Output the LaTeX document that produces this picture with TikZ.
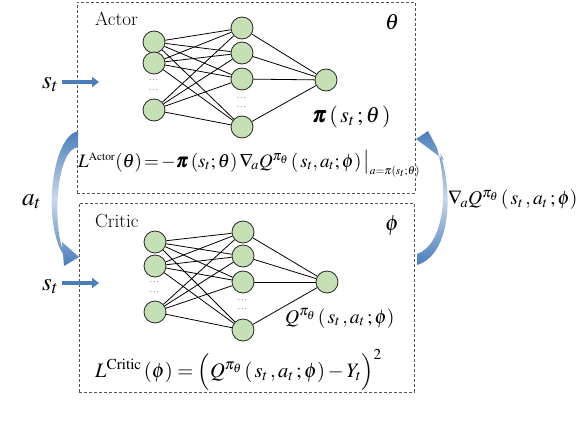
\documentclass[tikz,border=0pt]{standalone}
\usepackage{mathptmx}
\usepackage{amsmath}
\usepackage{bm}
\usepackage{tikz}
\usetikzlibrary{arrows.meta}
\definecolor{leaf}{HTML}{C5E0B4}
\definecolor{steel}{HTML}{4A7EBB}
\definecolor{frame}{HTML}{555555}

\begin{document}
\begin{tikzpicture}[x=1pt,y=-1pt,neuron/.style={circle,draw=black!85,fill=leaf,line width=0.8pt,minimum size=22pt,inner sep=0pt},wire/.style={line width=0.8pt,draw=black},panel/.style={draw=frame,densely dashed,line width=0.7pt,inner sep=0pt},feed/.style={-{Triangle[length=7pt,width=10pt]},line width=3.5pt,draw=steel},loopshade/.style={top color=steel,bottom color=steel,middle color=steel!30},eq/.style={font=\fontsize{22}{26}\selectfont,inner sep=0pt},mideq/.style={font=\fontsize{19.5}{23}\selectfont,inner sep=0pt},bigeq/.style={font=\fontsize{25}{30}\selectfont,inner sep=0pt},title/.style={font=\fontsize{19}{21}\selectfont,inner sep=0pt,anchor=base west},ellip/.style={font=\fontsize{9}{9}\selectfont,inner sep=0pt}]
\useasboundingbox (0,0) rectangle (586,434);

% the two panels
\node[panel,minimum width=338pt,minimum height=191pt] (actor) at (246,97.5) {};
\node[panel,minimum width=335pt,minimum height=189pt] (critic) at (246.5,297.5) {};
\node[title] (actname) at (95,25) {Actor};
\node[title] (critname) at (95,227) {Critic};
\node[eq] (theta) at (392,22) {$\theta$};
\node[eq] (phi) at (392,226) {$\phi$};

% actor network
\node[neuron] (ai1) at (154,42) {};
\node[neuron] (ai2) at (154,63) {};
\node[neuron] (ai3) at (154,110) {};
\node[neuron] (ah1) at (242,28) {};
\node[neuron] (ah2) at (242,53) {};
\node[neuron] (ah3) at (242,79) {};
\node[neuron] (ah4) at (242,127) {};
\node[neuron] (ao) at (326,80) {};
\node[ellip] (aid1) at (154,81) {$\cdots$};
\node[ellip] (aid2) at (154,91) {$\cdots$};
\node[ellip] (ahd1) at (242,99) {$\cdots$};
\node[ellip] (ahd2) at (242,108) {$\cdots$};
\foreach \i in {1,2,3}
  \foreach \h in {1,...,4}
    \draw[wire] (ai\i) -- (ah\h);
\foreach \h in {1,...,4}
  \draw[wire] (ah\h) -- (ao);

% critic network
\node[neuron] (ci1) at (155,242) {};
\node[neuron] (ci2) at (155,266) {};
\node[neuron] (ci3) at (155,312) {};
\node[neuron] (ch1) at (243,232) {};
\node[neuron] (ch2) at (243,256) {};
\node[neuron] (ch3) at (243,282) {};
\node[neuron] (ch4) at (243,330) {};
\node[neuron] (co) at (327,282) {};
\node[ellip] (cid1) at (155,283) {$\cdots$};
\node[ellip] (cid2) at (155,293) {$\cdots$};
\node[ellip] (chd1) at (243,301) {$\cdots$};
\node[ellip] (chd2) at (243,310) {$\cdots$};
\foreach \i in {1,2,3}
  \foreach \h in {1,...,4}
    \draw[wire] (ci\i) -- (ch\h);
\foreach \h in {1,...,4}
  \draw[wire] (ch\h) -- (co);

% outputs and losses
\node[eq,anchor=base west] (piout) at (312,122) {$\bm{\pi}\left(\,s_t\,;\theta\,\right)$};
\node[mideq,anchor=base west] (qout) at (285,323) {$Q^{\pi_\theta}\left(\,s_t\,,a_t\,;\phi\right)$};
\node[anchor=base west,inner sep=0pt,font=\fontsize{19}{23}\selectfont] (lact) at (78,167) {$L^{\scriptscriptstyle\mathrm{Actor}}(\theta)\!=\!-\bm{\pi}\left(s_t;\theta\right)\nabla_{\!a}Q^{\pi_\theta}\left(\,s_t,a_t;\phi\right)\big|_{\scriptscriptstyle a=\pi(s_t;\theta)}$};
\node[anchor=base west,inner sep=0pt,font=\fontsize{20.5}{24}\selectfont] (lcrit) at (95,377) {$L^{\mathrm{Critic}}\,(\phi)=\Big(Q^{\pi_\theta}\left(\,s_t\,,a_t\,;\phi\right)-Y_t\Big)^2$};

% inputs
\node[bigeq,anchor=base west] (st1) at (42,88) {$s_t$};
\node[bigeq,anchor=base west] (st2) at (42,290) {$s_t$};
\node[bigeq,anchor=base west] (at) at (22,205) {$a_t$};
\node[mideq,anchor=west] (grad) at (448,200) {$\nabla_{\!a}Q^{\pi_\theta}\left(\,s_t\,,a_t\,;\phi\right)$};
\coordinate (in1) at (99,82);
\coordinate (in2) at (99,283);
\draw[feed] (st1.east |- in1) ++(3,0) -- (in1);
\draw[feed] (st2.east |- in2) ++(3,0) -- (in2);

% curved feedback arrows
\shade[loopshade] (78,131) .. controls (52,137) and (42,220) .. (63,254) -- (64,266) -- (79,257) -- (62,242) -- (62.5,249) .. controls (53,222) and (56,150) .. (78,147) -- cycle;
\shade[loopshade] (417,265) .. controls (450,255) and (454,195) .. (440,153) -- (444,160) -- (416,139) -- (428,131) -- (437,148) .. controls (449,190) and (444,245) .. (417,254) -- cycle;
\end{tikzpicture}
\end{document}
